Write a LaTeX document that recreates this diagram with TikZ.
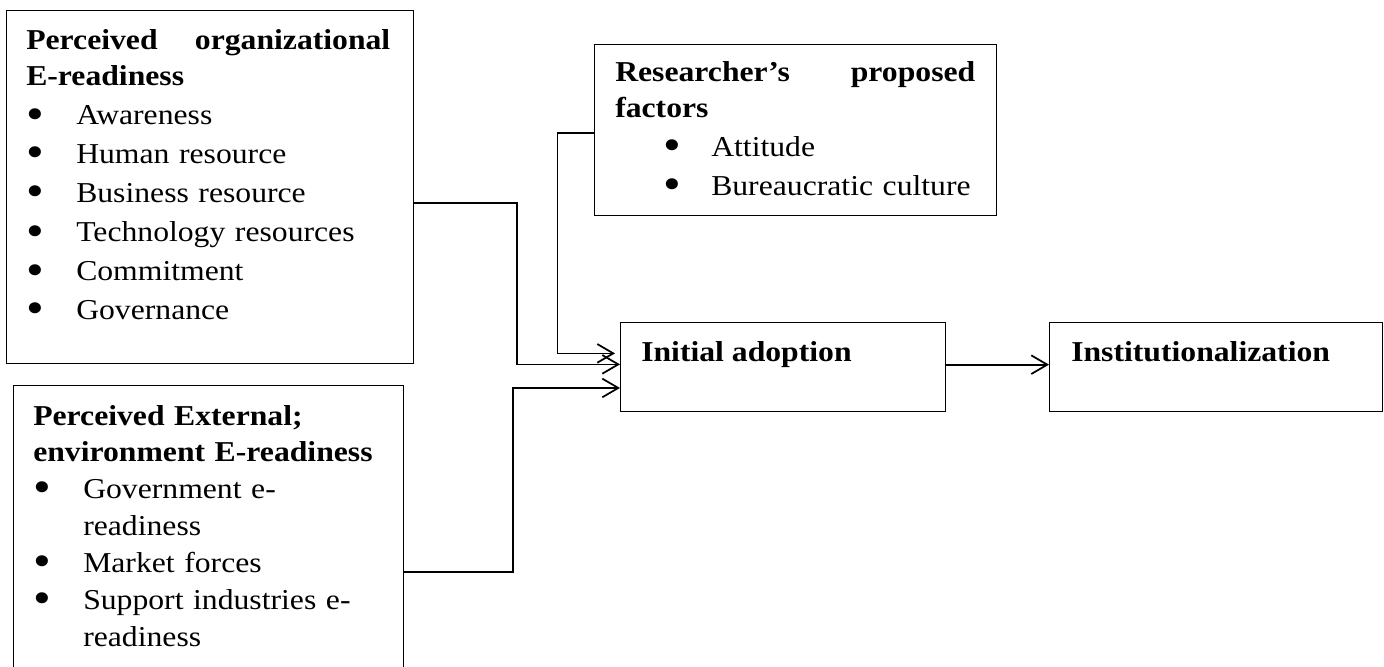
\documentclass[tikz,border=0pt]{standalone}
\usepackage{fontspec}
\setmainfont{Liberation Serif}[FakeStretch=1.1]
\usetikzlibrary{arrows.meta,calc}

\tikzset{
  box/.style={draw, line width=1pt, anchor=north west, inner sep=0pt},
  txt/.style={anchor=base west, inner sep=0pt, align=left, font=\fontsize{21.6pt}{27pt}\selectfont},
  link/.style={line width=1.3pt, -{Straight Barb[length=12pt,width=14pt,line width=1.3pt]}},
}
\newcommand{\bul}{\smash{\raisebox{-3pt}{\scalebox{1.6}{\textbullet}}}}
\newcommand{\itm}[1]{\makebox[37.5pt][l]{\bul}#1}

\begin{document}
\begin{tikzpicture}[x=0.75pt,y=-0.75pt]
  \useasboundingbox (0,0) rectangle (1384,667);
  \clip (0,0) rectangle (1384,667);

  % boxes
  \node[box, minimum width=305.25pt, minimum height=264.75pt] (org) at (6,10) {};
  \node[box, minimum width=292.5pt, minimum height=236.25pt] (ext) at (13,385) {};
  \node[box, minimum width=301.5pt, minimum height=128.25pt] (res) at (594,44) {};
  \node[box, minimum width=243.75pt, minimum height=66.75pt] (init) at (620,322) {};
  \node[box, minimum width=249.75pt, minimum height=66.75pt] (inst) at (1049,322) {};

  % texts
  \node[txt, text width=273pt] (orgtext) at ($(org.north west)+(20,40)$)
    {\textbf{Perceived\hfill organizational}\\
     \textbf{E-readiness}\\[2.25pt]
     \itm{Awareness}\\[2.25pt]
     \itm{Human resource}\\[2.25pt]
     \itm{Business resource}\\[2.25pt]
     \itm{Technology resources}\\[2.25pt]
     \itm{Commitment}\\[2.25pt]
     \itm{Governance}};
  \node[txt, text width=262pt] (exttext) at ($(ext.north west)+(20,40)$)
    {\textbf{Perceived External;}\\
     \textbf{environment E-readiness}\\[0.75pt]
     \itm{Government e-}\\[0.75pt]
     \hspace*{37.5pt}readiness\\[0.75pt]
     \itm{Market forces}\\[0.75pt]
     \itm{Support industries e-}\\[0.75pt]
     \hspace*{37.5pt}readiness};
  \node[txt, text width=270pt] (restext) at ($(res.north west)+(21,37.7)$)
    {\textbf{Researcher's\hfill proposed}\\
     \textbf{factors}\\[2.25pt]
     \hspace*{36pt}\makebox[36pt][l]{\bul}Attitude\\[2.25pt]
     \hspace*{36pt}\makebox[36pt][l]{\bul}Bureaucratic culture};
  \node[txt] (inittext) at ($(init.north west)+(21,39.7)$) {\textbf{Initial adoption}};
  \node[txt] (insttext) at ($(inst.north west)+(22,39.7)$) {\textbf{Institutionalization}};

  % connectors
  \draw[link] ($(org.east)+(0,15.5)$) -- ++(103,0) |- ($(init.west)+(0,-2.8)$);
  \draw[link, shorten >=3.75pt] ($(res.west)+(0,2.5)$) -- ++(-36.5,0) |- ($(init.west)+(0,-13.8)$);
  \draw[link] ($(ext.east)+(0,28.5)$) -- ++(109,0) |- ($(init.west)+(0,20.8)$);
  \draw[link] ($(init.east)+(0,-2.5)$) -- ($(inst.west)+(0,-2.5)$);
\end{tikzpicture}
\end{document}
